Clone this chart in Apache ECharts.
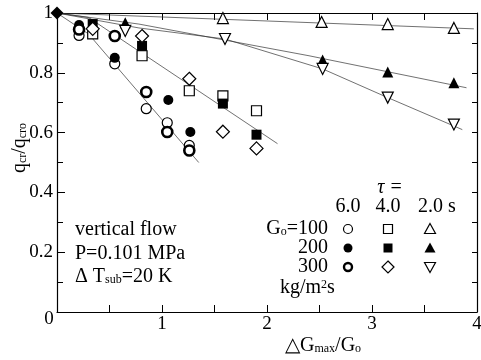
<!DOCTYPE html>
<html>
<head>
<meta charset="utf-8">
<script src="https://cdn.jsdelivr.net/npm/echarts@6/dist/echarts.min.js"></script>
<style>
  html, body { margin: 0; padding: 0; background: #fff; }
  #chart { width: 481px; height: 360px; }
</style>
</head>
<body>
<div id="chart"></div>
<script>
const FONT = 'Liberation Serif';

// common starting point (all runs start at qcr/qcro = 1)
const origin = [[0, 1]];

// tau = 6.0 s -> circles
const tau6G100 = [[0.21, 0.925], [0.55, 0.83], [0.85, 0.68], [1.05, 0.633], [1.26, 0.557]];
const tau6G200 = [[0.21, 0.96], [0.55, 0.85], [1.06, 0.709], [1.27, 0.602]];
const tau6G300 = [[0.21, 0.945], [0.55, 0.923], [0.85, 0.736], [1.05, 0.602], [1.26, 0.54]];

// tau = 4.0 s -> squares / diamonds
const tau4G100 = [[0.34, 0.93], [0.81, 0.857], [1.26, 0.74], [1.58, 0.723], [1.9, 0.673]];
const tau4G200 = [[0.34, 0.963], [0.81, 0.89], [1.58, 0.697], [1.9, 0.593]];
const tau4G300 = [[0.34, 0.947], [0.81, 0.923], [1.26, 0.78], [1.58, 0.603], [1.9, 0.547]];

// tau = 2.0 s -> triangles
const tau2G100 = [[1.58, 0.983], [2.52, 0.97], [3.15, 0.963], [3.78, 0.95]];
const tau2G200 = [[0.65, 0.967], [2.53, 0.843], [3.15, 0.803], [3.78, 0.767]];
const tau2G300 = [[0.65, 0.94], [1.6, 0.913], [2.53, 0.813], [3.15, 0.717], [3.78, 0.627]];

// hand-drawn trend lines
const fitTau6 = [[0, 1], [0.3, 0.93], [1.35, 0.5]];
const fitTau4 = [[0, 1], [0.3, 0.985], [2.1, 0.563]];
const fitTau2G100 = [[0, 1], [3.97, 0.947]];
const fitTau2G200 = [[0, 1], [0.78, 0.963], [2.4, 0.857], [3.9, 0.75]];
const fitTau2G300 = [[0, 1], [0.78, 0.95], [1.6, 0.913], [2.53, 0.813], [3.15, 0.717], [3.86, 0.61]];

const xTicks = [0, 1, 2, 3, 4];
const yTicks = [0, 0.2, 0.4, 0.6, 0.8, 1];

const chart = echarts.init(document.getElementById('chart'));

function pts(data, symbol, filled, size, extra) {
  return Object.assign({
    type: 'scatter',
    data: data,
    symbol: symbol,
    symbolSize: size,
    z: 5,
    silent: true,
    itemStyle: {
      color: filled ? '#000' : '#fff',
      borderColor: '#000',
      borderWidth: filled ? 0 : 1.2,
      opacity: 1
    }
  }, extra || {});
}

function fit(data) {
  return {
    type: 'line',
    data: data,
    showSymbol: false,
    silent: true,
    z: 2,
    lineStyle: { color: '#333', width: 0.7 }
  };
}

const thick = pts(tau6G300, 'circle', false, 10);
thick.itemStyle.borderWidth = 2.6;

const series = [
  fit(fitTau6), fit(fitTau4), fit(fitTau2G100), fit(fitTau2G200), fit(fitTau2G300),
  pts(tau6G100, 'circle', false, 10),
  pts(tau6G200, 'circle', true, 10),
  thick,
  pts(tau4G100, 'rect', false, 10),
  pts(tau4G200, 'rect', true, 10),
  pts(tau4G300, 'diamond', false, 13),
  pts(tau2G100, 'triangle', false, 11),
  pts(tau2G200, 'triangle', true, 11),
  pts(tau2G300, 'triangle', false, 11, { symbolRotate: 180 }),
  pts(origin, 'diamond', true, 13)
];

const txt = { fontFamily: FONT, fontSize: 20, lineHeight: 18, fill: '#000' };
function label(text, x, y, align, extra) {
  return {
    type: 'text', x: x, y: y, silent: true,
    style: Object.assign({}, txt, { text: text, align: align || 'left', verticalAlign: 'middle' }, extra || {})
  };
}
const richSub = {
  n: { fontFamily: FONT, fontSize: 20, lineHeight: 18 },
  s: { fontFamily: FONT, fontSize: 12, lineHeight: 18, verticalAlign: 'bottom', padding: [6, 0, 0, 0] },
  p: { fontFamily: FONT, fontSize: 12, lineHeight: 18, verticalAlign: 'top', padding: [0, 0, 6, 0] }
};

// legend keys
const colX = [348, 388, 430];
const rowY = [229, 248, 267];
function key(shape, x, y) {
  const st = { fill: '#fff', stroke: '#000', lineWidth: 1.2 };
  if (shape === 'circle') return { type: 'circle', shape: { cx: x, cy: y, r: 4.5 }, style: st };
  if (shape === 'dot') return { type: 'circle', shape: { cx: x, cy: y, r: 4.5 }, style: { fill: '#000' } };
  if (shape === 'ring') return { type: 'circle', shape: { cx: x, cy: y, r: 4 }, style: { fill: '#fff', stroke: '#000', lineWidth: 2.4 } };
  if (shape === 'rect') return { type: 'rect', shape: { x: x - 4.5, y: y - 4.5, width: 9, height: 9 }, style: st };
  if (shape === 'box') return { type: 'rect', shape: { x: x - 4.5, y: y - 4.5, width: 9, height: 9 }, style: { fill: '#000' } };
  if (shape === 'diamond') return { type: 'polygon', shape: { points: [[x, y - 6], [x + 6, y], [x, y + 6], [x - 6, y]] }, style: st };
  if (shape === 'up') return { type: 'polygon', shape: { points: [[x, y - 5.5], [x + 5.5, y + 4.5], [x - 5.5, y + 4.5]] }, style: st };
  if (shape === 'upf') return { type: 'polygon', shape: { points: [[x, y - 5.5], [x + 5.5, y + 4.5], [x - 5.5, y + 4.5]] }, style: { fill: '#000' } };
  return { type: 'polygon', shape: { points: [[x, y + 5.5], [x + 5.5, y - 4.5], [x - 5.5, y - 4.5]] }, style: st };
}
const keyShapes = [['circle', 'rect', 'up'], ['dot', 'box', 'upf'], ['ring', 'diamond', 'down']];
const keys = [];
keyShapes.forEach((row, r) => row.forEach((s, c) => {
  const k = key(s, colX[c], rowY[r]);
  k.silent = true;
  keys.push(k);
}));

const graphic = [
  label('0', 49, 319, 'center', { fontSize: 19 }),
  { type: 'text', x: 20, y: 148, rotation: Math.PI / 2, silent: true,
    style: { text: '{n|q}{s|cr}{n|/q}{s|cro}', rich: richSub, align: 'center', verticalAlign: 'middle', fill: '#000' } },
  label('vertical flow', 75, 230),
  label('P=0.101 MPa', 75, 254),
  { type: 'text', x: 75, y: 277, silent: true,
    style: { text: '{n|\u0394 T}{s|sub}{n|=20 K}', rich: richSub, verticalAlign: 'middle', fill: '#000' } },
  { type: 'text', x: 285, y: 346, silent: true,
    style: { text: '{n|\u25B3G}{s|max}{n|/G}{s|o}', rich: richSub, verticalAlign: 'middle', fill: '#000' } },
  label('\u03C4 =', 390, 188, 'center', { fontStyle: 'italic' }),
  label('6.0', 348, 207, 'center'),
  label('4.0', 388, 207, 'center'),
  label('2.0 s', 437, 207, 'center'),
  { type: 'text', x: 328, y: rowY[0], silent: true,
    style: { text: '{n|G}{s|o}{n|=100}', rich: richSub, align: 'right', verticalAlign: 'middle', fill: '#000' } },
  label('200', 328, rowY[1], 'right'),
  label('300', 328, rowY[2], 'right'),
  { type: 'text', x: 280, y: 288, silent: true,
    style: { text: '{n|kg/m}{p|2}{n|s}', rich: richSub, verticalAlign: 'middle', fill: '#000' } }
].concat(keys);

const axisLine = { show: true, onZero: false, lineStyle: { color: '#000', width: 1.2 } };

chart.setOption({
  animation: false,
  backgroundColor: '#fff',
  textStyle: { fontFamily: FONT },
  grid: { left: 57, right: 4, top: 13, bottom: 48, outerBoundsMode: 'none', containLabel: false },
  xAxis: [{
    type: 'value', min: xTicks[0], max: xTicks[xTicks.length - 1], interval: 1,
    axisLine: axisLine,
    axisTick: { inside: true, length: 7, lineStyle: { color: '#000' } },
    minorTick: { show: true, splitNumber: 2, length: 7, lineStyle: { color: '#000' } },
    axisLabel: {
      margin: 3, color: '#000', fontFamily: FONT, fontSize: 19,
      formatter: v => (v === 0 ? '' : String(v))
    },
    splitLine: { show: false }
  }, {
    type: 'value', position: 'top', min: xTicks[0], max: xTicks[xTicks.length - 1], interval: 0.5,
    axisLine: axisLine,
    axisTick: { inside: true, length: 7, lineStyle: { color: '#000' } },
    axisLabel: { show: false },
    splitLine: { show: false }
  }],
  yAxis: [{
    type: 'value', min: yTicks[0], max: yTicks[yTicks.length - 1], interval: 0.2,
    axisLine: axisLine,
    axisTick: { inside: true, length: 8, lineStyle: { color: '#000' } },
    minorTick: { show: true, splitNumber: 2, length: 6, lineStyle: { color: '#000' } },
    axisLabel: {
      margin: 4, color: '#000', fontFamily: FONT, fontSize: 19,
      formatter: v => (v === 0 ? '' : v === 1 ? '1' : v.toFixed(1))
    },
    splitLine: { show: false }
  }, {
    type: 'value', position: 'right', min: 0, max: 1, interval: 0.1,
    axisLine: axisLine,
    axisTick: { inside: true, length: 5, lineStyle: { color: '#000' } },
    axisLabel: { show: false },
    splitLine: { show: false }
  }],
  graphic: graphic,
  series: series
});
</script>
</body>
</html>
